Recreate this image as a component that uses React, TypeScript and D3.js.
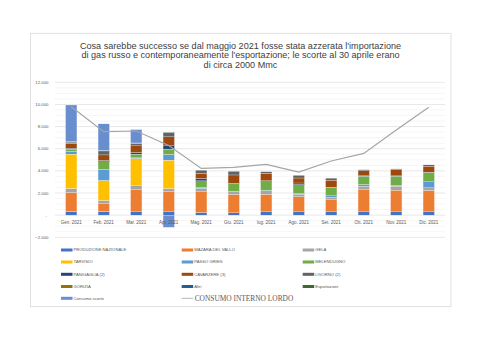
import React from "react";
import * as d3 from "d3";

const months = ["Gen. 2021","Feb. 2021","Mar. 2021","Apr. 2021","Mag. 2021","Giu. 2021","lug. 2021","Ago. 2021","Set. 2021","Ott. 2021","Nov. 2021","Dic. 2021"];

const seriesNames = ["PRODUZIONE NAZIONALE","MAZARA DEL VALLO","GELA","TARVISIO","PASSO GRIES","MELENDUGNO","PANIGAGLIA (2)","CAVARZERE (3)","LIVORNO (2)","GORIZIA","Altri","Esportazioni","Consumo scorte"];
const seriesColors = ["#4472C4","#ED7D31","#A5A5A5","#FFC000","#5B9BD5","#70AD47","#264478","#9E480E","#636363","#997300","#255E91","#43682B","#698ED0"];

const produzione = [330, 330, 360, 300, 240, 210, 300, 300, 300, 300, 300, 300];
const mazara = [1720, 700, 1990, 1870, 1870, 1660, 1570, 1360, 1090, 1990, 1960, 1930];
const gela = [360, 300, 360, 240, 300, 240, 330, 240, 240, 330, 360, 240];
const tarvisio = [3100, 1810, 2410, 2560, 0, 0, 0, 0, 0, 0, 0, 0];
const passoGries = [240, 980, 60, 510, 120, 40, 40, 40, 120, 150, 60, 540];
const melendugno = [210, 700, 330, 480, 570, 690, 780, 815, 750, 750, 840, 840];
const panigaglia = [90, 120, 150, 300, 210, 40, 90, 150, 30, 40, 30, 30];
const cavarzere = [450, 500, 600, 815, 450, 750, 660, 450, 630, 450, 570, 540];
const livorno = [100, 360, 210, 390, 300, 330, 150, 240, 180, 90, 60, 120];
const gorizia = [0, 0, 0, 0, 0, 0, 0, 0, 0, 0, 0, 0];
const altri = [20, 20, 20, 20, 0, 0, 0, 0, 0, 0, 0, 0];
const esportazioni = [30, 30, 30, 30, 0, 0, 0, 0, 0, 0, 0, 0];
const consumoScorte = [3300, 2400, 1210, -1100, 0, 0, 0, 0, 0, 0, 0, 0];
const consumoInterno = [9800, 7540, 7600, 6300, 4220, 4320, 4590, 3890, 4890, 5580, 7690, 9750];

const yTicks = [-2000, 0, 2000, 4000, 6000, 8000, 10000, 12000];

const allSeries = [produzione, mazara, gela, tarvisio, passoGries, melendugno, panigaglia, cavarzere, livorno, gorizia, altri, esportazioni, consumoScorte];

const W = 482, H = 341;
const plotL = 55, plotR = 445, plotT = 82.3, plotB = 237.3;

const locale = d3.formatLocale({ decimal: ",", thousands: ".", grouping: [3], currency: ["€", ""] });
const fmt = locale.format(",");

export default function App() {
  const x = d3.scaleBand<string>().domain(months).range([plotL, plotR]).paddingInner(0.65).paddingOuter(0.325);
  const y = d3.scaleLinear().domain([-2000, 12000]).range([plotB, plotT]);

  const rows = months.map((m, i) => {
    const r: any = { month: m };
    seriesNames.forEach((s, k) => (r[s] = allSeries[k][i]));
    return r;
  });
  const stacked = d3.stack<any>().keys(seriesNames).offset(d3.stackOffsetDiverging)(rows);

  const minorTicks = d3.range(-2000, 12001, 500);
  const line = d3.line<number>().x((_, i) => (x(months[i]) as number) + x.bandwidth() / 2).y(d => y(d));

  const titleLines = [
    "Cosa sarebbe successo se dal maggio 2021 fosse stata azzerata l'importazione",
    "di gas russo e contemporaneamente l'esportazione;  le scorte al 30 aprile erano",
    "di circa 2000 Mmc",
  ];

  const legendItems = [...seriesNames.map((s, k) => ({ name: s, color: seriesColors[k], line: false })), { name: "CONSUMO INTERNO LORDO", color: "#A5A5A5", line: true }];
  const colX = [61, 181.7, 302.7];
  const rowY = [250, 262, 274.3, 286.5, 298.3];

  return (
    <svg width={W} height={H} style={{ position: "absolute", left: 0, top: 0, fontFamily: "'Liberation Sans', Arial, sans-serif" }}>
      <rect x={0} y={0} width={W} height={H} fill="#fff" />
      <rect x={30.5} y={33.3} width={420.5} height={273.4} fill="#fff" stroke="#D9D9D9" strokeWidth={0.8} />
      {titleLines.map((t, i) => (
        <text key={i} x={240.5} y={48.5 + i * 9.6} textAnchor="middle" fontSize={9.1} fill="#404040">{t}</text>
      ))}
      {minorTicks.map(t => (
        <line key={"m" + t} x1={plotL} x2={plotR} y1={y(t)} y2={y(t)} stroke={t % 2000 === 0 ? "#D9D9D9" : "#F0F0F0"} strokeWidth={0.6} />
      ))}
      {yTicks.map(t => (
        <text key={"yl" + t} x={t === 0 ? 47 : 48.5} y={y(t)} dy="0.35em" textAnchor="end" fontSize={4.3} fill="#595959">{t === 0 ? "-" : fmt(t)}</text>
      ))}
      {stacked.map((layer, k) => (
        <g key={layer.key} fill={seriesColors[k]}>
          {layer.map((d, i) => {
            const h = Math.abs(y(d[0]) - y(d[1]));
            if (h <= 0) return null;
            return (
              <rect key={i} x={x(months[i])} y={Math.min(y(d[0]), y(d[1]))} width={x.bandwidth()} height={h} stroke="#fff" strokeWidth={0.25} />
            );
          })}
        </g>
      ))}
      {months.map(m => (
        <text key={"xl" + m} x={(x(m) as number) + x.bandwidth() / 2} y={222} dy="0.35em" textAnchor="middle" fontSize={4.5} fill="#595959">{m}</text>
      ))}
      <path d={line(consumoInterno) || ""} fill="none" stroke="#A5A5A5" strokeWidth={1.2} />
      {legendItems.map((it, i) => {
        const cx = colX[i % 3];
        const cy = rowY[Math.floor(i / 3)];
        return (
          <g key={it.name}>
            {it.line ? (
              <line x1={cx} x2={cx + 11.5} y1={cy} y2={cy} stroke={it.color} strokeWidth={0.8} />
            ) : (
              <rect x={cx} y={cy - 1.5} width={11.5} height={3} fill={it.color} />
            )}
            <text x={cx + (it.line ? 13 : 12.5)} y={cy} dy="0.35em" fontSize={it.line ? 7.4 : 4.2} fill="#595959"
              fontFamily={it.line ? "'Liberation Serif', 'Times New Roman', serif" : undefined}>{it.name}</text>
          </g>
        );
      })}
    </svg>
  );
}
